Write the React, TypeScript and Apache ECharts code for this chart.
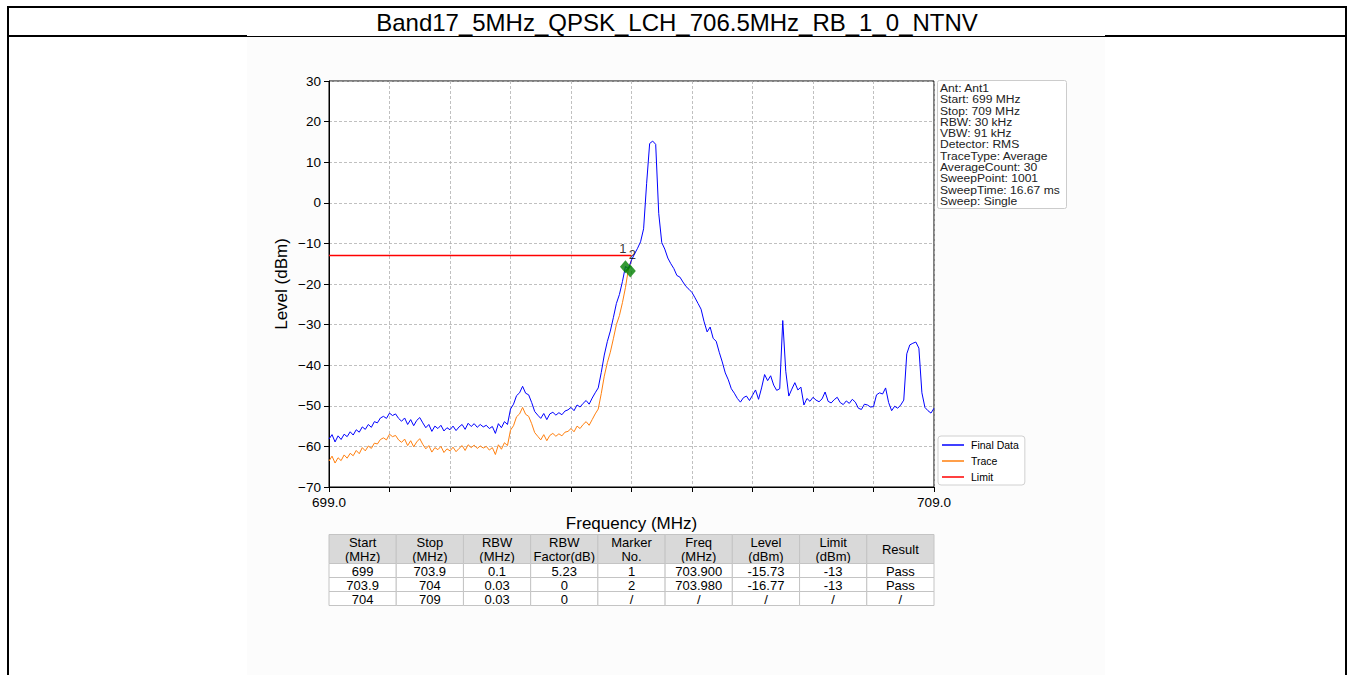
import React, { useEffect, useRef } from "react";
import * as echarts from "echarts";

const titleText = "Band17_5MHz_QPSK_LCH_706.5MHz_RB_1_0_NTNV";
const xAxisName = "Frequency (MHz)";
const yAxisName = "Level (dBm)";
const freqStart = 699;
const freqStep = 0.05;
const xMin = 699;
const xMax = 709;
const yMin = -70;
const yMax = 30;
const xEndLabels = ["699.0", "709.0"];

const finalData = [
  -58.2, -57.1, -58.9, -57.4, -58.3, -57.0, -57.6, -56.4, -57.2, -55.9,
  -56.5, -55.2, -55.8, -54.6, -55.3, -53.9, -54.2, -53.0, -52.6, -53.1,
  -51.8, -52.4, -52.0, -53.1, -53.8, -53.0, -54.6, -53.4, -54.9, -53.6,
  -52.9, -54.2, -55.4, -54.6, -56.3, -55.0, -55.6, -54.8, -56.2, -55.4,
  -55.9, -55.0, -56.1, -55.2, -54.6, -55.8, -54.3, -55.1, -54.4, -55.3,
  -54.6, -55.2, -54.8, -55.6, -55.1, -56.8, -54.4, -55.4, -53.9, -54.6,
  -50.8, -49.6, -47.5, -46.8, -45.2, -46.9, -47.3, -49.2, -51.4, -52.3,
  -53.1, -51.9, -53.4, -52.0, -51.6, -52.3, -51.7, -52.2, -51.3, -51.0,
  -50.4, -51.2, -49.8, -50.3, -49.4, -48.7, -49.6, -48.1, -46.8, -45.6,
  -41.8, -37.5, -34.2, -31.6, -28.3, -24.8, -22.6, -19.4, -15.7, -16.2,
  -14.1, -12.6, -11.2, -9.6, -6.4, 4.8, 14.6, 15.2, 14.4, -2.6,
  -9.8, -11.4, -13.6, -15.0, -16.2, -17.9, -18.3, -19.5, -20.6, -21.3,
  -22.1, -23.4, -24.8, -26.2, -29.3, -31.8, -30.6, -33.4, -34.1, -36.8,
  -39.2, -41.9, -43.6, -45.8, -46.9, -48.2, -49.1, -48.0, -47.6, -48.7,
  -47.4, -46.1, -48.4, -45.6, -42.3, -43.8, -42.6, -44.9, -46.2, -45.8,
  -29.0, -41.5, -47.6, -45.9, -44.3, -46.1, -45.4, -49.8, -48.2, -48.9,
  -47.9, -48.6, -49.0, -48.3, -46.6, -48.9, -49.3, -48.5, -47.9, -49.2,
  -49.7, -48.8, -49.4, -48.4, -49.1, -50.6, -50.9, -49.6, -49.8, -50.3,
  -50.2, -47.3, -46.8, -47.1, -45.6, -49.2, -51.2, -50.1, -50.6, -49.8,
  -48.6, -37.2, -35.0, -34.6, -34.3, -35.8, -46.8, -50.4, -51.2, -51.8,
  -50.6,
];

const traceData = [
  -63.6, -62.4, -64.1, -62.8, -63.5, -62.1, -62.9, -61.7, -62.3, -61.0,
  -61.8, -60.3, -61.1, -59.9, -60.5, -59.2, -59.4, -58.3, -57.9, -58.4,
  -57.0, -57.6, -57.3, -58.4, -59.0, -58.2, -59.8, -58.6, -60.1, -58.9,
  -58.1, -59.5, -60.6, -59.8, -61.4, -60.3, -60.8, -60.0, -61.5, -60.6,
  -61.1, -60.2, -61.3, -60.5, -59.8, -61.0, -59.6, -60.3, -59.7, -60.5,
  -59.9, -60.4, -60.0, -60.9, -60.3, -62.0, -59.6, -60.7, -59.1, -59.8,
  -56.0, -54.9, -52.7, -52.0, -50.4, -52.1, -52.6, -54.4, -56.6, -57.5,
  -58.4, -57.1, -58.6, -57.3, -56.8, -57.5, -56.9, -57.4, -56.5, -56.3,
  -55.6, -56.4, -55.0, -55.6, -54.6, -53.9, -54.8, -53.4, -52.0, -50.8,
  -47.0, -42.7, -39.4, -36.8, -33.5, -30.0, -27.8, -24.6, -20.9, -16.2,
  -14.1,
];

const limitFreqs = [699, 704];
const limitLevels = [-13, -13];

const markerNames = ["1", "2"];
const markerFreqs = [703.9, 703.98];
const markerLevels = [-15.73, -16.77];

const infoLines = [
  "Ant: Ant1",
  "Start: 699 MHz",
  "Stop: 709 MHz",
  "RBW: 30 kHz",
  "VBW: 91 kHz",
  "Detector: RMS",
  "TraceType: Average",
  "AverageCount: 30",
  "SweepPoint: 1001",
  "SweepTime: 16.67 ms",
  "Sweep: Single",
];

const tableHeader = [
  "Start\n(MHz)",
  "Stop\n(MHz)",
  "RBW\n(MHz)",
  "RBW\nFactor(dB)",
  "Marker\nNo.",
  "Freq\n(MHz)",
  "Level\n(dBm)",
  "Limit\n(dBm)",
  "Result",
];
const tableRow1 = ["699", "703.9", "0.1", "5.23", "1", "703.900", "-15.73", "-13", "Pass"];
const tableRow2 = ["703.9", "704", "0.03", "0", "2", "703.980", "-16.77", "-13", "Pass"];
const tableRow3 = ["704", "709", "0.03", "0", "/", "/", "/", "/", "/"];

const FONT = "'Liberation Sans', Arial, Helvetica, sans-serif";

export default function App() {
  const ref = useRef<HTMLDivElement>(null);

  useEffect(() => {
    if (!ref.current) return;
    const chart = echarts.init(ref.current, null, { renderer: "svg" });

    const toPairs = (arr: number[]) => arr.map((v, i) => [+(freqStart + i * freqStep).toFixed(3), v]);

    const gridLeft = 329;
    const gridTop = 81;
    const gridW = 605;
    const gridH = 406;

    const graphics: any[] = [];
    graphics.push({
      type: "text",
      x: 677,
      y: 22,
      style: { text: titleText, fontSize: 24, fontFamily: FONT, fill: "#000", align: "center", verticalAlign: "middle" },
    });
    graphics.push({
      type: "text",
      x: gridLeft + gridW / 2,
      y: 523,
      style: { text: xAxisName, fontSize: 17, fontFamily: FONT, fill: "#000", align: "center", verticalAlign: "middle" },
    });
    graphics.push({
      type: "text",
      x: 281,
      y: gridTop + gridH / 2,
      rotation: Math.PI / 2,
      style: { text: yAxisName, fontSize: 17, fontFamily: FONT, fill: "#000", align: "center", verticalAlign: "middle" },
    });
    graphics.push({
      type: "rect",
      shape: { x: 937.5, y: 80.5, width: 129, height: 128, r: 2 },
      style: { fill: "#ffffff", stroke: "#cccccc", lineWidth: 1 },
    });
    graphics.push({
      type: "text",
      x: 940,
      y: 82.5,
      scaleX: 1.1,
      style: {
        text: infoLines.join("\n"),
        fontSize: 11,
        lineHeight: 11.3,
        fontFamily: FONT,
        fill: "#222",
        align: "left",
        verticalAlign: "top",
      },
    });
    const colW = gridW / 9;
    const headTop = 534.5;
    const headH = 29;
    const rowH = 14;
    tableHeader.forEach((t, c) => {
      const x = gridLeft + c * colW;
      graphics.push({
        type: "rect",
        shape: { x, y: headTop, width: colW, height: headH },
        style: { fill: "#d9d9d9", stroke: "#c4c4c4", lineWidth: 1 },
      });
      graphics.push({
        type: "text",
        x: x + colW / 2,
        y: headTop + headH / 2 + 0.5,
        style: { text: t, fontSize: 13, lineHeight: 13.5, fontFamily: FONT, fill: "#000", align: "center", verticalAlign: "middle" },
      });
    });
    [tableRow1, tableRow2, tableRow3].forEach((row, r) => {
      const y = headTop + headH + r * rowH;
      row.forEach((t, c) => {
        const x = gridLeft + c * colW;
        graphics.push({
          type: "rect",
          shape: { x, y, width: colW, height: rowH },
          style: { fill: "#ffffff", stroke: "#c4c4c4", lineWidth: 1 },
        });
        graphics.push({
          type: "text",
          x: x + colW / 2,
          y: y + rowH / 2 + 0.5,
          style: { text: t, fontSize: 13, fontFamily: FONT, fill: "#000", align: "center", verticalAlign: "middle" },
        });
      });
    });

    const labelOffsets = [
      [-2.5, -1],
      [2, 1],
    ];

    chart.setOption({
      animation: false,
      backgroundColor: "transparent",
      textStyle: { fontFamily: FONT },
      grid: {
        left: gridLeft,
        top: gridTop,
        width: gridW,
        height: gridH,
        show: true,
        borderColor: "#000",
        borderWidth: 1,
        backgroundColor: "#ffffff",
      },
      legend: {
        data: ["Final Data", "Trace", "Limit"],
        orient: "vertical",
        left: 938,
        top: 436,
        icon: "rect",
        itemWidth: 22,
        itemHeight: 1.5,
        itemGap: 4,
        padding: [3, 6, 2, 4],
        borderColor: "#d0d0d0",
        borderWidth: 1,
        borderRadius: 3,
        backgroundColor: "#fff",
        textStyle: { fontSize: 10.5, lineHeight: 12, color: "#000", fontFamily: FONT, padding: [0, 0, 0, 2] },
      },
      xAxis: {
        type: "value",
        min: xMin,
        max: xMax,
        interval: 1,
        axisLine: { show: true, onZero: false, lineStyle: { color: "#000", width: 1 } },
        axisTick: { show: true, inside: false, length: 5, lineStyle: { color: "#000" } },
        axisLabel: {
          show: true,
          margin: 8,
          fontSize: 13.5,
          color: "#000",
          fontFamily: FONT,
          showMinLabel: true,
          showMaxLabel: true,
          formatter: (v: number) => (v === xMin ? xEndLabels[0] : v === xMax ? xEndLabels[1] : ""),
        },
        splitLine: { show: true, lineStyle: { color: "#b0b0b0", width: 0.8, type: [3, 2] } },
      },
      yAxis: {
        type: "value",
        min: yMin,
        max: yMax,
        interval: 10,
        axisLine: { show: true, onZero: false, lineStyle: { color: "#000", width: 1 } },
        axisTick: { show: true, inside: false, length: 5, lineStyle: { color: "#000" } },
        axisLabel: {
          margin: 8,
          fontSize: 13.5,
          color: "#000",
          fontFamily: FONT,
          formatter: (v: number) => String(v).replace("-", "\u2212"),
        },
        splitLine: { show: true, lineStyle: { color: "#b0b0b0", width: 0.8, type: [3, 2] } },
      },
      series: [
        {
          name: "Final Data",
          type: "line",
          data: toPairs(finalData),
          showSymbol: false,
          symbol: "none",
          color: "#0000ff",
          lineStyle: { color: "#0000ff", width: 1 },
          z: 4,
        },
        {
          name: "Trace",
          type: "line",
          data: toPairs(traceData),
          showSymbol: false,
          symbol: "none",
          color: "#ff7f0e",
          lineStyle: { color: "#ff7f0e", width: 1 },
          z: 3,
        },
        {
          name: "Limit",
          type: "line",
          data: limitFreqs.map((f, i) => [f, limitLevels[i]]),
          showSymbol: false,
          symbol: "none",
          color: "#ff0000",
          lineStyle: { color: "#ff0000", width: 1.5 },
          z: 3,
        },
        {
          name: "Markers",
          type: "scatter",
          symbol: "diamond",
          symbolSize: [11, 13],
          color: "#008000",
          itemStyle: { color: "#008000" },
          z: 6,
          label: {
            show: true,
            position: "top",
            distance: 4,
            fontSize: 13,
            color: "#000000",
            textBorderWidth: 0,
            fontFamily: FONT,
            formatter: (p: any) => p.name,
          },
          data: markerNames.map((n, i) => ({
            name: n,
            value: [markerFreqs[i], markerLevels[i]],
            label: { offset: labelOffsets[i], color: "#000000", textBorderWidth: 0 },
          })),
        },
      ],
      graphic: graphics,
    });

    return () => chart.dispose();
  }, []);

  return (
    <div style={{ position: "absolute", left: 0, top: 0, width: 1348, height: 675, background: "#fff", overflow: "hidden" }}>
      <div style={{ position: "absolute", left: 247, top: 37, width: 858, height: 638, background: "#fcfcfc" }} />
      <div style={{ position: "absolute", left: 7, top: 6, width: 1340, height: 2, background: "#000" }} />
      <div style={{ position: "absolute", left: 7, top: 35, width: 240, height: 2, background: "#000" }} />
      <div style={{ position: "absolute", left: 247, top: 36, width: 858, height: 1, background: "#000" }} />
      <div style={{ position: "absolute", left: 1105, top: 35, width: 242, height: 2, background: "#000" }} />
      <div style={{ position: "absolute", left: 7, top: 6, width: 2, height: 669, background: "#000" }} />
      <div style={{ position: "absolute", left: 1345, top: 6, width: 2, height: 669, background: "#000" }} />
      <div ref={ref} style={{ position: "absolute", left: 0, top: 0, width: 1348, height: 675 }} />
    </div>
  );
}
